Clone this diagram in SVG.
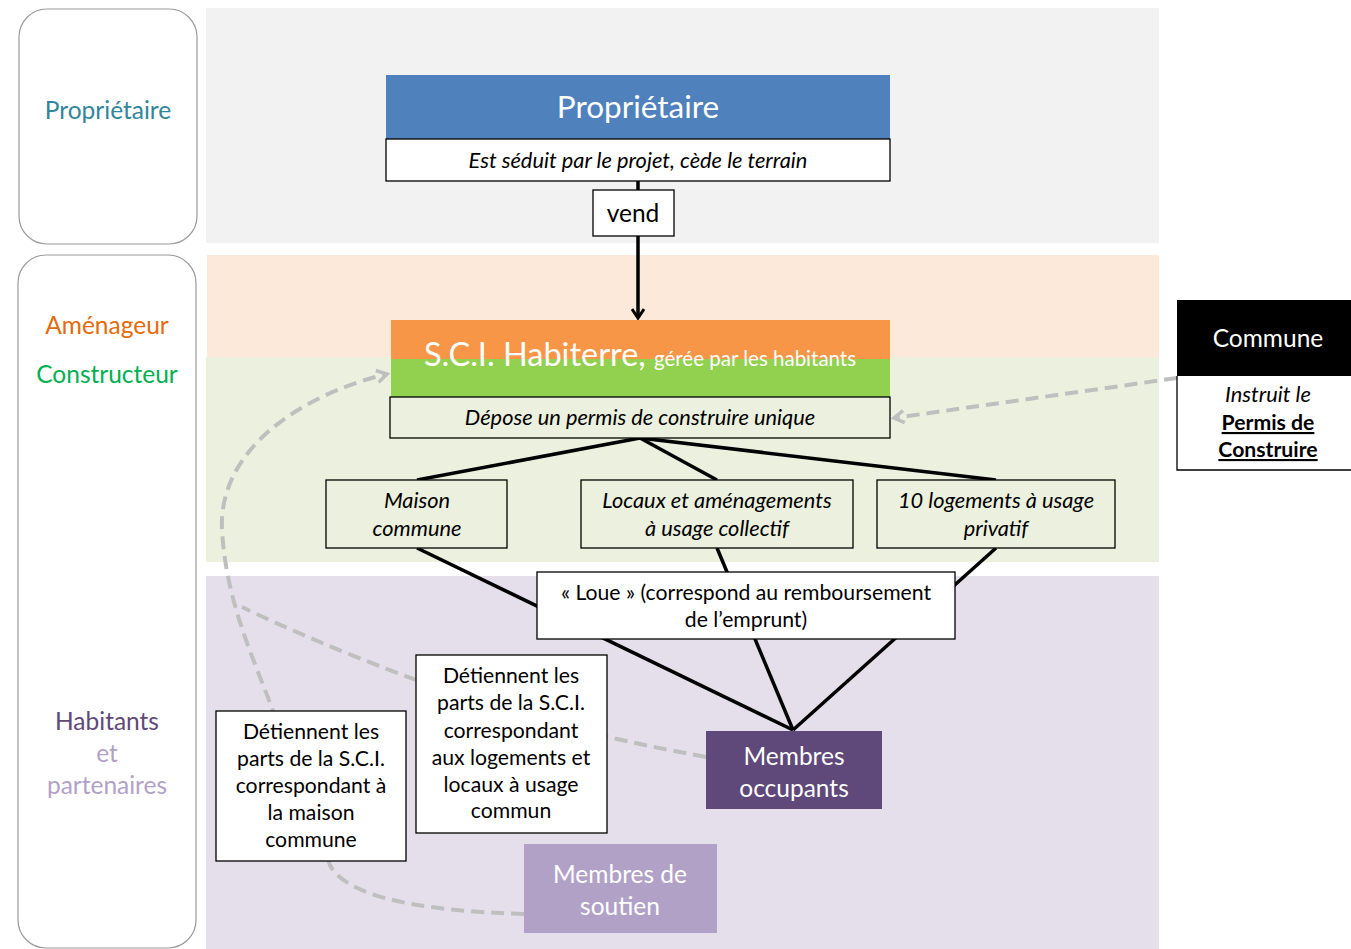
<svg xmlns="http://www.w3.org/2000/svg" width="1351" height="949" viewBox="0 0 1351 949">
<style>
text{font-family:Lato,"Open Sans","Liberation Sans",sans-serif;text-anchor:middle}
.lane{fill:#fff;stroke:#9a9a9a;stroke-width:1.2}
.lt{font-size:24.5px}
.box{stroke:#000;stroke-width:1.3}
.it{font-style:italic;font-size:21.8px;fill:#000}
.rg{font-size:21.2px;fill:#000}
.wt{fill:#fff}
.conn{stroke:#000;stroke-width:3.5;fill:none}
.dash{stroke:#bfbfbf;stroke-width:4;fill:none;stroke-dasharray:13 7}
</style>
<defs>
<marker id="ab" markerWidth="14" markerHeight="14" refX="11" refY="7" orient="auto" markerUnits="userSpaceOnUse"><path d="M2,1 L11,7 L2,13" fill="none" stroke="#000" stroke-width="3"/></marker>
<marker id="ag" markerWidth="16" markerHeight="16" refX="12" refY="8" orient="auto" markerUnits="userSpaceOnUse"><path d="M2,2 L12,8 L2,14" fill="none" stroke="#bfbfbf" stroke-width="3.5"/></marker>
</defs>
<g id="bands">
<rect x="206" y="8" width="953" height="235" fill="#f2f2f2"/>
<rect x="207" y="255" width="952" height="102" fill="#fde9d9"/>
<rect x="206" y="357" width="953" height="205" fill="#ebf1de"/>
<rect x="206" y="576" width="953" height="373" fill="#e5dfec"/>
</g>
<g id="lane-proprietaire">
<rect class="lane" x="19" y="9" width="178" height="235" rx="28"/>
<text class="lt" x="108" y="119" fill="#31859c">Propriétaire</text>
</g>
<g id="lane-amenageur">
<rect class="lane" x="18" y="255" width="178" height="693" rx="28"/>
<text class="lt" x="107" y="334" fill="#e36c09">Aménageur</text>
<text class="lt" x="107" y="383" fill="#00b050">Constructeur</text>
<text class="lt" x="107" y="730" fill="#5f497a">Habitants</text>
<text class="lt" x="107" y="762" fill="#b2a1c7">et</text>
<text class="lt" x="107" y="794" fill="#b2a1c7">partenaires</text>
</g>
<g id="connectors">
<line class="conn" x1="638" y1="181" x2="638" y2="318" marker-end="url(#ab)"/>
<line class="conn" x1="640" y1="438" x2="417" y2="480"/>
<line class="conn" x1="640" y1="438" x2="717" y2="480"/>
<line class="conn" x1="640" y1="438" x2="996" y2="480"/>
<line class="conn" x1="417" y1="548" x2="793" y2="730"/>
<line class="conn" x1="717" y1="548" x2="793" y2="730"/>
<line class="conn" x1="996" y1="548" x2="793" y2="730"/>
<path class="dash" d="M1177,378 L894,418" marker-end="url(#ag)"/>
<path class="dash" d="M524,914 C460,912 350,905 330,865 L272,708 C252,655 226,600 222,530 C218,450 300,395 387,374" marker-end="url(#ag)"/>
<path class="dash" d="M706,757 C640,745 600,735 560,726 C480,707 330,650 242,607"/>
</g>
<g id="proprietaire">
<rect x="386" y="75" width="504" height="64" fill="#4f81bd"/>
<text class="wt" x="638" y="118" font-size="31.5">Propriétaire</text>
</g>
<g id="seduit">
<rect class="box" x="386" y="139" width="504" height="42" fill="#fff"/>
<text class="it" x="638" y="168">Est séduit par le projet, cède le terrain</text>
</g>
<g id="vend">
<rect class="box" x="593" y="190" width="81" height="46" fill="#fff"/>
<text x="633" y="222" font-size="24.5" fill="#000">vend</text>
</g>
<g id="sci">
<rect x="391" y="320" width="499" height="39" fill="#f79646"/>
<rect x="391" y="359" width="499" height="38" fill="#92d050"/>
<text class="wt" x="640" y="366"><tspan font-size="32.5">S.C.I. Habiterre, </tspan><tspan font-size="20.5">gérée par les habitants</tspan></text>
</g>
<g id="depose">
<rect class="box" x="390" y="397" width="500" height="41" fill="#ebf1de"/>
<text class="it" x="640" y="425">Dépose un permis de construire unique</text>
</g>
<g id="commune">
<rect x="1177" y="300" width="174" height="76" fill="#000"/>
<text class="wt" x="1268" y="347" font-size="24.5">Commune</text>
<path d="M1177,376 L1177,470 L1351,470" fill="#fff" stroke="#000" stroke-width="1.3"/>
<rect x="1178" y="376" width="173" height="93" fill="#fff"/>
<text class="it" x="1268" y="402">Instruit le</text>
<text class="rg" x="1268" y="430" font-weight="bold" text-decoration="underline">Permis de</text>
<text class="rg" x="1268" y="457" font-weight="bold" text-decoration="underline">Construire</text>
</g>
<g id="maison">
<rect class="box" x="326" y="480" width="181" height="68" fill="#ebf1de"/>
<text class="it" x="417" y="508">Maison</text>
<text class="it" x="417" y="536">commune</text>
</g>
<g id="locaux">
<rect class="box" x="581" y="480" width="272" height="68" fill="#ebf1de"/>
<text class="it" x="717" y="508">Locaux et aménagements</text>
<text class="it" x="717" y="536">à usage collectif</text>
</g>
<g id="logements">
<rect class="box" x="877" y="480" width="238" height="68" fill="#ebf1de"/>
<text class="it" x="996" y="508">10 logements à usage</text>
<text class="it" x="996" y="536">privatif</text>
</g>
<g id="loue">
<rect class="box" x="537" y="572" width="418" height="67" fill="#fff"/>
<text class="rg" x="746" y="600">« Loue » (correspond au remboursement</text>
<text class="rg" x="746" y="627">de l’emprunt)</text>
</g>
<g id="detiennent-logements">
<rect class="box" x="416" y="655" width="191" height="178" fill="#fff"/>
<text class="rg" x="511" y="683">Détiennent les</text>
<text class="rg" x="511" y="710">parts de la S.C.I.</text>
<text class="rg" x="511" y="738">correspondant</text>
<text class="rg" x="511" y="765">aux logements et</text>
<text class="rg" x="511" y="792">locaux à usage</text>
<text class="rg" x="511" y="818">commun</text>
</g>
<g id="detiennent-maison">
<rect class="box" x="216" y="711" width="190" height="150" fill="#fff"/>
<text class="rg" x="311" y="739">Détiennent les</text>
<text class="rg" x="311" y="766">parts de la S.C.I.</text>
<text class="rg" x="311" y="793">correspondant à</text>
<text class="rg" x="311" y="820">la maison</text>
<text class="rg" x="311" y="847">commune</text>
</g>
<g id="occupants">
<rect x="706" y="731" width="176" height="78" fill="#5f497a"/>
<text class="wt" x="794" y="765" font-size="24.5">Membres</text>
<text class="wt" x="794" y="797" font-size="24.5">occupants</text>
</g>
<g id="soutien">
<rect x="524" y="844" width="193" height="89" fill="#b2a1c7"/>
<text class="wt" x="620" y="883" font-size="24.5">Membres de</text>
<text class="wt" x="620" y="915" font-size="24.5">soutien</text>
</g>
</svg>
